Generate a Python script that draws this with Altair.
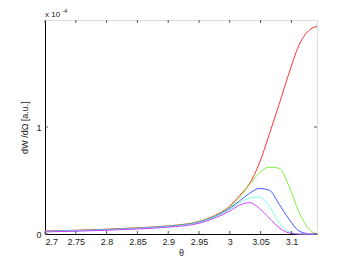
import altair as alt
import pandas as pd

# theta sample points (rad)
theta = [2.7, 2.75, 2.8, 2.85, 2.9, 2.95, 2.975, 3.0, 3.016, 3.032, 3.048,
         3.064, 3.08, 3.096, 3.112, 3.128, 3.1416]
# dW/dOmega in units of 1e-4
red = [0.028, 0.035, 0.045, 0.058, 0.076, 0.118, 0.172, 0.26, 0.36, 0.47, 0.66,
       0.93, 1.21, 1.50, 1.76, 1.90, 1.94]
green = [0.026, 0.033, 0.043, 0.056, 0.074, 0.115, 0.168, 0.25, 0.34, 0.46, 0.57,
         0.625, 0.615, 0.45, 0.21, 0.05, 0.0]
blue = [0.024, 0.031, 0.041, 0.053, 0.071, 0.110, 0.162, 0.24, 0.31, 0.38, 0.425,
        0.41, 0.28, 0.14, 0.03, 0.003, 0.0]
cyan = [0.022, 0.029, 0.038, 0.050, 0.068, 0.106, 0.156, 0.23, 0.29, 0.335, 0.345,
        0.26, 0.11, 0.02, 0.002, 0.0, 0.0]
magenta = [0.020, 0.026, 0.035, 0.047, 0.064, 0.100, 0.148, 0.215, 0.27, 0.293, 0.24,
           0.15, 0.06, 0.01, 0.0, 0.0, 0.0]

series_names = ["red", "green", "blue", "cyan", "magenta"]
series_vals = [red, green, blue, cyan, magenta]
series_colors = ["#ff3333", "#80f040", "#4455ff", "#80ffe8", "#cc44ff"]

x_ticks = [2.7, 2.75, 2.8, 2.85, 2.9, 2.95, 3.0, 3.05, 3.1]
y_ticks = [0, 1]

rows = []
for name, vals in zip(series_names, series_vals):
    for t, v in zip(theta, vals):
        rows.append({"theta": t, "val": v, "series": name})
df = pd.DataFrame(rows)

FONT = "Liberation Sans"
W, H = 272, 214

xscale = alt.Scale(domain=[2.7, 3.1416], nice=False, zero=False)
yscale = alt.Scale(domain=[0, 2], nice=False)

xaxis = alt.Axis(title="θ", values=x_ticks, format="~g", ticks=False,
                 grid=False, labelPadding=3, titlePadding=2,
                 domainColor="#000", labelFont=FONT, titleFont=FONT,
                 labelFontSize=9, titleFontSize=9, labelColor="#222",
                 titleColor="#222", titleFontWeight="normal")
yaxis = alt.Axis(title="dW /dΩ [a.u.]", values=y_ticks, format="d",
                 ticks=False, grid=False, labelPadding=4, titlePadding=6,
                 domainColor="#000", labelFont=FONT, titleFont=FONT,
                 labelFontSize=9, titleFontSize=9, labelColor="#222",
                 titleColor="#222", titleFontWeight="normal")

lines = alt.Chart(df).mark_line(strokeWidth=1, interpolate="monotone").encode(
    x=alt.X("theta:Q", scale=xscale, axis=xaxis),
    y=alt.Y("val:Q", scale=yscale, axis=yaxis),
    color=alt.Color("series:N", scale=alt.Scale(domain=series_names, range=series_colors),
                    legend=None),
    detail="series:N",
)

xt = pd.DataFrame({"theta": x_ticks})
yt = pd.DataFrame({"val": y_ticks})

tick_style = dict(color="#555", strokeWidth=1)
bottom_ticks = alt.Chart(xt).mark_rule(**tick_style).encode(
    x=alt.X("theta:Q", scale=xscale, axis=xaxis), y=alt.value(H), y2=alt.value(H - 3))
top_ticks = alt.Chart(xt).mark_rule(**tick_style).encode(
    x=alt.X("theta:Q", scale=xscale, axis=xaxis), y=alt.value(0), y2=alt.value(3))
left_ticks = alt.Chart(yt).mark_rule(**tick_style).encode(
    y=alt.Y("val:Q", scale=yscale, axis=yaxis), x=alt.value(0), x2=alt.value(3))
right_ticks = alt.Chart(yt).mark_rule(**tick_style).encode(
    y=alt.Y("val:Q", scale=yscale, axis=yaxis), x=alt.value(W), x2=alt.value(W - 3))

one = pd.DataFrame({"a": [0]})
mult = alt.Chart(one).mark_text(text="x 10", font=FONT, fontSize=8, align="left",
                                baseline="alphabetic", color="#222").encode(
    x=alt.value(0), y=alt.value(-3))
mult_exp = alt.Chart(one).mark_text(text="-4", font=FONT, fontSize=6, align="left",
                                    baseline="alphabetic", color="#222").encode(
    x=alt.value(17), y=alt.value(-7))

chart = alt.layer(lines, bottom_ticks, top_ticks, left_ticks, right_ticks, mult, mult_exp).properties(
    width=W, height=H,
    autosize=alt.AutoSizeParams(type="none"),
    padding={"left": 37, "top": 12, "right": 25, "bottom": 28},
).configure_view(stroke="#888", strokeWidth=1).configure(background="white")

chart.save("out.html", embed_options={"renderer": "svg", "actions": False})
